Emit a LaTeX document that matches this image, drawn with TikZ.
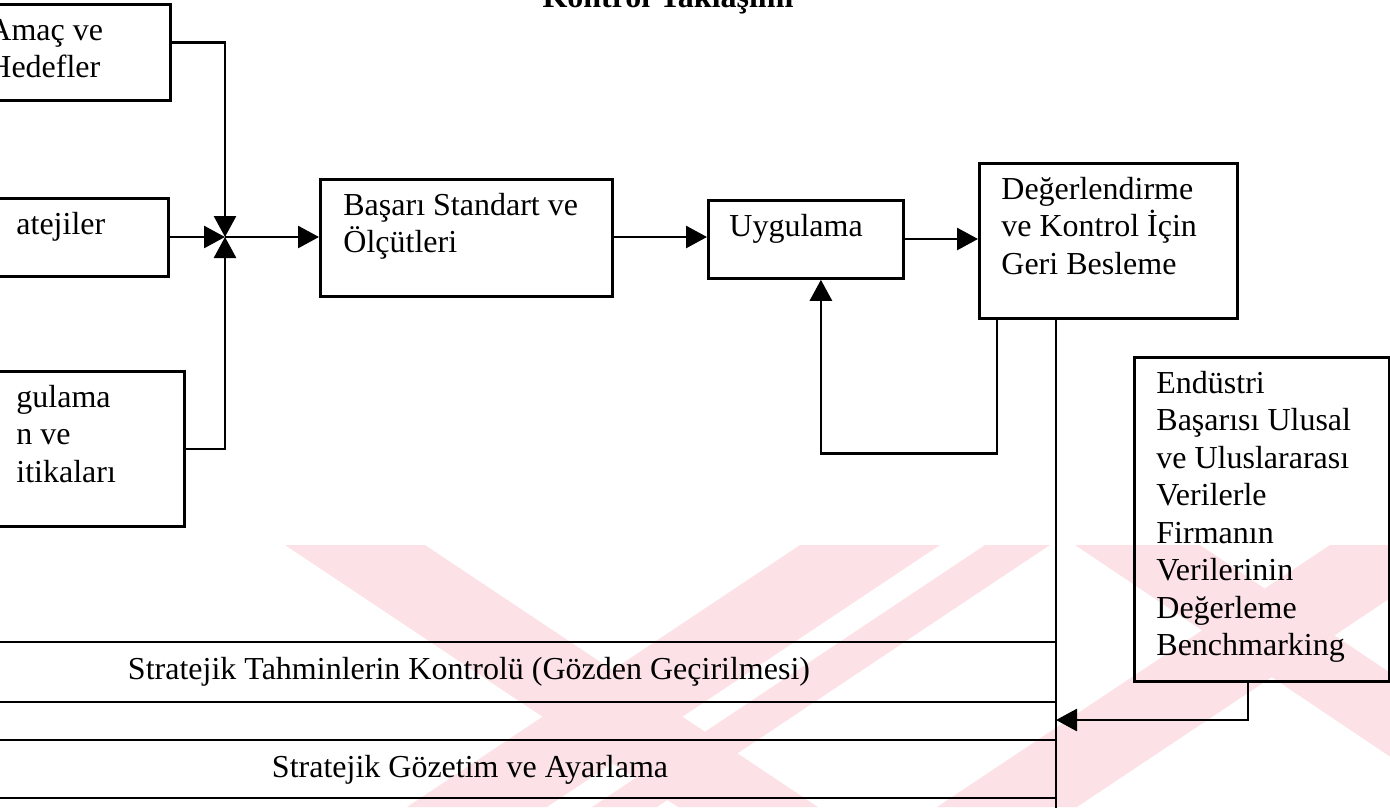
\documentclass[tikz,border=0pt]{standalone}
\usepackage{fontspec}
\setmainfont{Liberation Serif}
\usetikzlibrary{arrows.meta}
\definecolor{filigran}{RGB}{252,226,231}
\newcommand{\kutuyazi}[3]{\parbox[t][#1][t]{#2}{\raggedright\rule{0pt}{24pt}#3}}
\tikzset{
  kutu/.style={draw, line width=2.8pt, anchor=north west, inner xsep=#1, inner ysep=12pt},
  hat/.style={line width=2.8pt},
  ok/.style={hat, -{Triangle[length=21pt,width=22pt]}}
}

\begin{document}
\begin{tikzpicture}[x=1pt, y=-1pt, font=\fontsize{32}{37.5}\selectfont]
  \useasboundingbox (0,0) rectangle (1390,807);
  \clip (0,0) rectangle (1390,807);

  % filigran
  \begin{scope}
    \clip (0,545) rectangle (1390,807);
    \fill[filigran] (285,545) -- (425,545) -- (818,807) -- (678,807) -- cycle;
    \fill[filigran] (800,545) -- (940,545) -- (547,807) -- (407,807) -- cycle;
    \fill[filigran] (985,545) -- (1050,545) -- (657,807) -- (592,807) -- cycle;
    \fill[filigran] (1075,545) -- (1200,545) -- (1590,807) -- (1465,807) -- cycle;
    \fill[filigran] (1330,545) -- (1470,545) -- (1077,807) -- (937,807) -- cycle;
  \end{scope}

  \node[font=\fontsize{32}{37.5}\bfseries, anchor=base] (baslik) at (668,7) {Kontrol Yaklaşımı};

  % sol kutular
  \node[kutu=17pt] (amac) at (-30,3) {\kutuyazi{72pt}{165pt}{Amaç ve\\Hedefler}};
  \node[kutu=45pt] (strateji) at (-30,197) {\kutuyazi{54pt}{107pt}{atejiler}};
  \node[kutu=45pt] (politika) at (-30,370) {\kutuyazi{131pt}{123pt}{gulama\\n ve\\itikaları}};
  \coordinate (kavsak) at (225,237);

  % ana akis
  \node[kutu=23pt] (basari) at (319,178) {\kutuyazi{93pt}{246pt}{Başarı Standart ve\\Ölçütleri}};
  \node[kutu=21pt] (uygulama) at (707,199) {\kutuyazi{54pt}{153pt}{Uygulama}};
  \node[kutu=22pt] (deger) at (978,162) {\kutuyazi{131pt}{214pt}{Değerlendirme\\ve Kontrol İçin\\Geri Besleme}};
  \node[kutu=22pt] (endustri) at (1133,356) {\kutuyazi{300pt}{211pt}{Endüstri\\Başarısı Ulusal\\ve Uluslararası\\Verilerle\\Firmanın\\Verilerinin\\Değerleme\\Benchmarking}};

  \draw[ok] ([yshift=10pt]amac.east) -| (kavsak);
  \draw[ok] (strateji.east |- kavsak) -- (kavsak);
  \draw[ok] (politika.east) -| (kavsak);
  \draw[ok] (kavsak) -- (kavsak -| basari.west);
  \draw[ok] (basari.east |- kavsak) -- (kavsak -| uygulama.west);
  \draw[ok] (uygulama.east |- 0,239) -- (deger.west |- 0,239);
  \draw[ok] ([xshift=19pt]deger.south west) -- ++(0,134) -| ([xshift=15pt]uygulama.south);

  % geri besleme hatti
  \coordinate (hat) at ([xshift=78pt]deger.south west);
  \coordinate (hatson) at (hat |- 0,812);
  \draw[hat] (hat) -- (hatson);
  \draw[ok] ([xshift=115pt]endustri.south west) |- (hat |- 0,720);

  % alt bantlar
  \coordinate (b1) at (-5,642);
  \coordinate (b2) at (-5,702);
  \coordinate (b3) at (-5,740);
  \coordinate (b4) at (-5,798);
  \foreach \b in {b1,b2,b3,b4}
    \draw[hat] (\b) -- (\b -| hat);
  \node[anchor=base] (kontrol) at (469,679) {Stratejik Tahminlerin Kontrolü (Gözden Geçirilmesi)};
  \node[anchor=base] (gozetim) at (470,777) {Stratejik Gözetim ve Ayarlama};
\end{tikzpicture}
\end{document}
